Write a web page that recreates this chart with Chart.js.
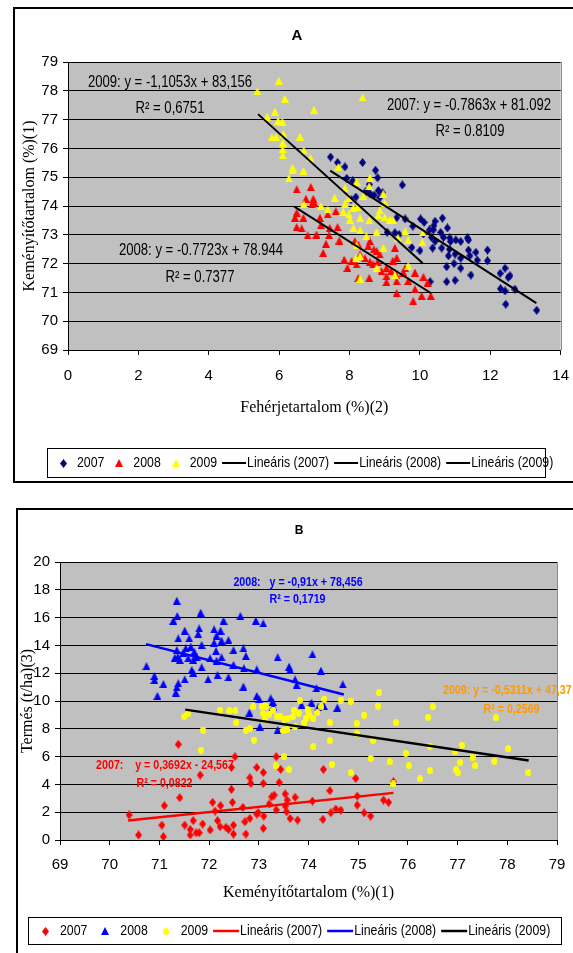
<!DOCTYPE html>
<html>
<head>
<meta charset="utf-8">
<script src="https://cdn.jsdelivr.net/npm/chart.js@4.4.0/dist/chart.umd.min.js"></script>
<style>
  html, body { margin: 0; padding: 0; background: #fff; }
  body { width: 573px; height: 953px; overflow: hidden; position: relative; }
  .frame { position: absolute; border: 2px solid #000; box-sizing: border-box; }
  #frameA { left: 13px; top: 7px; width: 620px; height: 476px; }
  #frameB { left: 16px; top: 508px; width: 620px; height: 500px; }
  canvas { position: absolute; }
  #chartA { left: 13px; top: 7px; }
  #chartB { left: 16px; top: 508px; }
</style>
</head>
<body>
<div class="frame" id="frameA"></div>
<div class="frame" id="frameB"></div>
<canvas id="chartA" width="568" height="475"></canvas>
<canvas id="chartB" width="566" height="445"></canvas>
<script>
// ---- A: fehérjetartalom / keményítőtartalom ----
const aXTicks = [0, 2, 4, 6, 8, 10, 12, 14];
const aYTicks = [69, 70, 71, 72, 73, 74, 75, 76, 77, 78, 79];

const a2007x = [7.46, 7.66, 7.87, 8.37, 8.74, 8.80, 7.92, 8.09, 8.56, 8.82, 8.47, 8.58, 8.18, 8.04, 8.70, 8.94, 8.86, 9.34, 9.29, 9.41,
  9.50, 9.58, 10.02, 10.12, 10.43, 10.64, 10.40, 10.27, 10.38, 10.78, 10.59, 10.10, 10.33, 10.43, 10.67, 10.85, 10.87, 11.02, 11.16, 11.35,
  11.38, 10.62, 10.84, 10.36, 10.00, 9.77, 11.00, 10.81, 11.16, 10.97, 10.76, 11.16, 11.38, 11.42, 11.59, 11.63, 11.92, 11.92, 11.45, 10.76,
  11.00, 10.29, 12.28, 12.42, 12.51, 12.56, 12.29, 12.42, 12.70, 12.44, 13.32, 9.07, 9.80];
const a2007y = [75.70, 75.51, 75.36, 75.51, 75.24, 74.98, 74.96, 74.87, 74.75, 74.54, 74.52, 74.43, 74.31, 74.23, 74.38, 74.46, 74.29, 73.59, 73.07, 73.01,
  74.73, 73.55, 73.55, 73.43, 73.47, 73.58, 73.32, 73.17, 73.17, 73.24, 73.08, 73.03, 72.91, 72.77, 72.91, 72.89, 72.77, 72.82, 72.77, 72.89,
  72.82, 72.54, 72.50, 72.54, 72.45, 72.56, 72.33, 72.27, 72.19, 72.00, 71.89, 71.84, 72.47, 72.27, 72.39, 72.12, 72.47, 72.10, 71.60, 71.37,
  71.42, 71.37, 71.66, 71.84, 71.52, 71.58, 71.13, 71.05, 71.11, 70.59, 70.38, 73.09, 73.30];

const a2008x = [6.50, 6.90, 6.76, 6.97, 7.00, 6.93, 6.50, 6.45, 6.69, 7.16, 7.38, 7.61, 6.50, 6.64, 6.81, 7.06, 7.19, 7.44, 7.66, 7.42,
  7.33, 7.25, 7.71, 8.15, 8.25, 8.30, 8.53, 8.58, 8.69, 7.85, 7.94, 8.06, 8.20, 8.44, 8.58, 8.67, 8.80, 8.86, 8.91, 9.05,
  9.05, 9.18, 9.29, 9.34, 9.32, 8.25, 8.56, 9.05, 9.34, 9.34, 8.77, 9.23, 9.58, 9.53, 9.86, 10.10, 10.22, 9.67, 9.81, 10.05,
  10.31, 9.86];
const a2008y = [74.58, 74.66, 74.25, 74.25, 74.11, 74.06, 73.77, 73.59, 73.59, 73.59, 73.71, 73.82, 73.27, 73.22, 72.98, 73.01, 73.34, 73.24, 73.27, 72.99,
  72.69, 72.37, 72.80, 72.78, 72.66, 72.32, 72.61, 72.78, 72.49, 72.14, 71.85, 72.09, 71.97, 72.18, 72.06, 71.97, 72.06, 72.32, 71.74, 71.85,
  71.56, 71.74, 72.55, 72.20, 71.62, 71.50, 71.50, 71.36, 71.39, 70.98, 72.44, 72.10, 71.84, 71.69, 71.69, 71.54, 71.34, 71.40, 70.70, 70.88,
  70.88, 71.11];

const a2009x = [5.38, 5.99, 6.16, 6.99, 8.37, 5.88, 5.66, 5.97, 6.09, 5.79, 5.91, 6.12, 6.10, 6.10, 6.10, 6.59, 6.70, 6.89, 6.38, 6.38,
  6.28, 6.69, 8.20, 7.68, 7.58, 7.87, 7.99, 6.70, 7.19, 7.38, 7.87, 7.82, 7.98, 8.11, 8.22, 8.30, 8.01, 8.39, 8.58, 8.56,
  8.96, 8.86, 9.00, 8.82, 8.56, 8.30, 8.11, 9.00, 9.15, 9.24, 8.48, 8.77, 9.38, 8.96, 8.20, 8.30, 8.18, 8.77, 8.30, 9.29,
  9.58, 9.67, 10.08, 10.07, 9.67];
const a2009y = [77.98, 78.35, 77.73, 77.34, 77.77, 77.28, 77.10, 76.96, 76.93, 76.38, 76.40, 76.50, 76.20, 75.97, 75.76, 76.41, 75.93, 75.66, 75.33, 75.25,
  74.96, 75.22, 74.84, 75.36, 74.29, 74.61, 74.29, 74.06, 74.00, 73.88, 74.08, 73.80, 73.71, 73.94, 73.96, 73.59, 73.53, 74.35, 74.98, 74.69,
  74.43, 73.85, 73.61, 73.68, 73.50, 73.15, 73.24, 74.11, 73.53, 73.51, 72.95, 73.10, 72.90, 72.55, 72.64, 72.26, 72.18, 71.85, 71.48, 71.60,
  73.12, 72.82, 73.08, 72.74, 71.92];

// lineáris trendvonalak végpontjai (leolvasva)
const aTrend2007x = [7.45, 13.31], aTrend2007y = [75.23, 70.63];
const aTrend2008x = [6.43, 10.32], aTrend2008y = [73.98, 70.97];
const aTrend2009x = [5.40, 10.08], aTrend2009y = [77.19, 72.01];

// ---- B: keményítőtartalom / termés ----
const bXTicks = [69, 70, 71, 72, 73, 74, 75, 76, 77, 78, 79];
const bYTicks = [0, 2, 4, 6, 8, 10, 12, 14, 16, 18, 20];

const b2007x = [71.38, 72.52, 73.35, 72.45, 72.96, 73.09, 73.44, 74.30, 71.82, 72.82, 72.84, 73.09, 73.41, 74.95, 72.45, 71.41, 71.10, 72.07, 72.23, 72.47,
  72.68, 73.26, 73.31, 73.21, 73.35, 73.53, 73.57, 73.73, 73.53, 73.56, 73.63, 73.78, 74.08, 74.43, 74.98, 74.98, 75.51, 75.61, 75.71, 74.65,
  74.55, 74.45, 74.29, 75.12, 75.25, 70.39, 70.58, 71.05, 71.08, 71.51, 71.68, 71.87, 71.62, 71.62, 71.74, 71.80, 72.02, 72.17, 72.22, 72.12,
  72.34, 72.39, 72.49, 72.49, 72.72, 72.74, 72.82, 72.99, 73.10, 73.09, 72.96];
const b2007y = [6.88, 5.99, 5.99, 5.22, 5.22, 4.86, 5.08, 5.08, 4.67, 4.48, 4.07, 4.07, 4.14, 4.43, 3.64, 3.04, 2.47, 2.71, 2.47, 2.71,
  2.35, 3.11, 3.23, 2.59, 2.16, 3.31, 2.87, 3.07, 2.44, 2.03, 1.55, 1.43, 2.80, 3.55, 3.16, 2.51, 2.87, 2.71, 4.19, 2.15,
  2.23, 1.96, 1.48, 1.96, 1.72, 1.80, 0.36, 1.07, 0.24, 1.07, 1.39, 1.15, 0.76, 0.36, 0.52, 0.52, 0.72, 1.39, 0.96, 2.08,
  0.91, 0.76, 1.07, 0.43, 1.31, 0.43, 1.55, 1.96, 1.72, 0.84, 1.87];

const b2008x = [71.35, 71.36, 71.28, 71.83, 72.63, 72.94, 73.09, 72.29, 71.51, 71.80, 71.78, 72.10, 72.23, 72.15, 71.60, 71.38, 72.25, 72.39, 72.10, 71.85,
  71.63, 71.53, 71.35, 71.48, 71.70, 71.37, 71.31, 71.41, 71.58, 71.68, 71.75, 72.02, 72.14, 72.15, 72.25, 72.49, 72.69, 72.74, 72.49, 72.70,
  72.96, 73.38, 73.61, 73.63, 74.08, 74.25, 73.73, 73.76, 74.16, 74.69, 71.85, 71.65, 71.68, 71.98, 72.17, 72.39, 71.51, 71.38, 71.35, 71.33,
  71.08, 70.90, 70.90, 70.96, 70.74, 72.69, 72.96, 73.01, 73.24, 73.28, 73.29, 72.81, 73.02, 73.38, 74.06, 74.31, 74.58, 74.20, 73.86];
const b2008y = [17.21, 16.11, 15.77, 16.35, 16.11, 15.77, 15.58, 15.77, 15.06, 15.22, 14.82, 15.15, 15.06, 14.70, 14.50, 14.50, 14.34, 14.38, 14.19, 14.02,
  13.90, 13.78, 13.66, 13.47, 13.54, 13.18, 13.11, 12.95, 13.07, 12.95, 13.18, 13.07, 13.59, 12.90, 13.14, 13.66, 13.78, 13.23, 12.59, 12.35,
  12.27, 13.14, 12.47, 12.23, 13.35, 12.18, 11.55, 11.15, 10.91, 11.19, 12.42, 12.23, 12.03, 11.55, 11.87, 11.70, 11.55, 11.27, 10.98, 10.60,
  11.22, 11.80, 11.51, 10.36, 12.51, 11.03, 10.36, 10.12, 10.19, 9.95, 9.59, 9.16, 8.15, 7.91, 9.88, 9.64, 9.52, 9.59, 9.71];

const b2009x = [75.42, 75.40, 76.50, 76.41, 77.77, 75.76, 75.12, 74.97, 74.97, 75.30, 74.43, 74.43, 74.10, 74.85, 74.65, 74.32, 73.83, 73.51, 73.34, 73.61,
  74.47, 74.85, 75.25, 75.63, 75.71, 75.96, 76.02, 76.24, 76.44, 76.44, 76.95, 77.09, 77.05, 76.97, 77.00, 77.30, 77.36, 77.74, 78.02, 78.42,
  72.53, 72.89, 73.06, 73.14, 73.09, 73.21, 73.12, 73.29, 73.43, 73.51, 73.59, 73.57, 73.49, 73.71, 73.69, 73.81, 73.98, 74.02, 73.95, 74.10,
  74.18, 74.26, 73.90, 73.73, 72.90, 72.74, 72.82, 71.50, 71.58, 71.88, 72.22, 72.41, 71.84, 72.55, 73.36];
const b2009y = [10.60, 9.64, 9.59, 8.82, 8.80, 8.44, 8.99, 8.39, 7.67, 7.15, 8.44, 7.15, 6.71, 10.00, 10.07, 10.14, 10.02, 5.99, 5.35, 5.08,
  5.44, 4.84, 5.87, 5.63, 4.03, 6.23, 5.35, 4.39, 4.99, 6.76, 6.35, 6.83, 5.59, 5.04, 4.84, 5.95, 5.35, 5.68, 6.55, 4.84,
  9.30, 9.59, 9.64, 9.64, 9.11, 9.06, 8.68, 9.35, 8.92, 8.68, 8.75, 7.96, 7.87, 9.35, 8.87, 9.11, 9.40, 9.04, 8.75, 8.75,
  9.16, 9.59, 8.39, 8.15, 7.19, 7.91, 8.03, 8.87, 9.11, 7.91, 9.35, 9.30, 6.47, 8.44, 8.87];

const bTrend2007x = [70.37, 75.71], bTrend2007y = [1.41, 3.39];
const bTrend2008x = [70.73, 74.71], bTrend2008y = [14.09, 10.47];
const bTrend2009x = [71.52, 78.43], bTrend2009y = [9.38, 5.72];

const SANS = '"Liberation Sans", Arial, sans-serif';
const SERIF = '"Liberation Serif", "Times New Roman", serif';
const NARROW_SX = 0.82; // Arial Narrow helyett vízszintesen szűkített Liberation Sans

// pontjelölők kis képként (Excel-szerű, kicsit magasabb alakok)
function marker(shape, w, h, color) {
  const c = document.createElement('canvas');
  c.width = w; c.height = h;
  const g = c.getContext('2d');
  g.fillStyle = color;
  g.beginPath();
  if (shape === 'diamond') {
    g.moveTo(w / 2, 0); g.lineTo(w, h / 2); g.lineTo(w / 2, h); g.lineTo(0, h / 2);
  } else if (shape === 'triangle') {
    g.moveTo(w / 2, 0); g.lineTo(w, h); g.lineTo(0, h);
  } else {
    g.ellipse(w / 2, h / 2, w / 2, h / 2, 0, 0, Math.PI * 2);
  }
  g.closePath();
  g.fill();
  return c;
}

const mkNavyDiamond = marker('diamond', 7, 9, '#000080');
const mkRedTriA = marker('triangle', 8, 8, '#ff0000');
const mkYellowTriA = marker('triangle', 8, 8, '#ffff00');
const mkRedDiamond = marker('diamond', 7, 9, '#ff0000');
const mkBlueTri = marker('triangle', 8, 8, '#0000ff');
const mkYellowDot = marker('circle', 6, 7, '#ffff00');

function pts(xs, ys) {
  return xs.map((x, i) => ({ x: x, y: ys[i] }));
}

function scatterSet(label, xs, ys, img, order) {
  return { label: label, data: pts(xs, ys), pointStyle: img, pointRadius: 4, pointBorderWidth: 0, showLine: false, order: order };
}

function trendSet(label, xs, ys, color, width) {
  return { label: label, data: pts(xs, ys), showLine: true, borderColor: color, borderWidth: width, pointRadius: 0, order: 0 };
}

function fixedTicks(list) {
  return scale => { scale.ticks = list.map(v => ({ value: v })); };
}

// szűkített szöveg, visszaadja a szélességet
function narrowText(ctx, text, x, y, align) {
  const w = ctx.measureText(text).width * NARROW_SX;
  const left = align === 'center' ? x - w / 2 : (align === 'right' ? x - w : x);
  ctx.save();
  ctx.translate(left, y);
  ctx.scale(NARROW_SX, 1);
  ctx.textAlign = 'left';
  ctx.fillText(text, 0, 0);
  ctx.restore();
  return w;
}

function drawLegend(ctx, lg) {
  ctx.save();
  ctx.strokeStyle = '#000';
  ctx.lineWidth = 1;
  ctx.strokeRect(lg.x + 0.5, lg.y + 0.5, lg.w, lg.h);
  ctx.font = lg.font;
  ctx.fillStyle = '#000';
  ctx.textBaseline = 'middle';
  const cy = lg.y + lg.h / 2 + 0.5;
  let x = lg.x + lg.first;
  lg.items.forEach((it, i) => {
    if (it.line) {
      if (i > 0) x += lg.lineGap;
      ctx.strokeStyle = it.line;
      ctx.lineWidth = lg.lineWidth;
      ctx.beginPath();
      ctx.moveTo(x, cy);
      ctx.lineTo(x + lg.lineLen, cy);
      ctx.stroke();
      x += lg.lineLen + 1;
    } else {
      if (i > 0) x += lg.markGap;
      ctx.drawImage(it.img, Math.round(x - it.img.width / 2), Math.round(cy - it.img.height / 2));
      x += lg.textGap;
    }
    x += narrowText(ctx, it.text, x, cy, 'left');
  });
  ctx.restore();
}

// szürke háttér, feliratok, jelmagyarázat
function decor(name, notes, legend) {
  return {
    id: 'decor' + name,
    beforeDraw(chart) {
      const { ctx, chartArea: a } = chart;
      ctx.save();
      ctx.fillStyle = '#c0c0c0';
      ctx.fillRect(a.left, a.top, a.right - a.left, a.bottom - a.top);
      ctx.strokeStyle = '#8a8a8a';
      ctx.lineWidth = 1;
      ctx.beginPath();
      ctx.moveTo(Math.round(a.right) + 0.5, a.top);
      ctx.lineTo(Math.round(a.right) + 0.5, a.bottom);
      ctx.stroke();
      ctx.restore();
    },
    afterDraw(chart) {
      const ctx = chart.ctx;
      ctx.save();
      ctx.textBaseline = 'middle';
      notes.forEach(n => {
        ctx.font = n.font;
        ctx.fillStyle = n.color || '#000';
        if (n.plain) {
          ctx.textAlign = 'center';
          ctx.fillText(n.text, n.x, n.y);
        } else {
          narrowText(ctx, n.text, n.x, n.y, n.align || 'center');
        }
      });
      ctx.restore();
      drawLegend(ctx, legend);
    }
  };
}

function axes(cfg) {
  return {
    x: {
      type: 'linear',
      min: cfg.xTicks[0],
      max: cfg.xTicks[cfg.xTicks.length - 1],
      afterBuildTicks: fixedTicks(cfg.xTicks),
      afterFit: s => { s.height = 70; },
      grid: { drawOnChartArea: false, drawTicks: true, tickLength: 5, color: '#000' },
      border: { color: '#000', width: 1 },
      ticks: { autoSkip: false, maxRotation: 0, font: cfg.tickFont, color: '#000', padding: cfg.xTickPad },
      title: { display: true, text: cfg.xTitle, font: { family: SERIF, size: 16 }, color: '#000', padding: { top: 0, bottom: cfg.xTitlePad } }
    },
    y: {
      type: 'linear',
      min: cfg.yTicks[0],
      max: cfg.yTicks[cfg.yTicks.length - 1],
      afterBuildTicks: fixedTicks(cfg.yTicks),
      afterFit: s => { s.width = cfg.yWidth; },
      grid: { color: '#000', lineWidth: 1, drawTicks: true, tickLength: 5 },
      border: { color: '#000', width: 1 },
      ticks: { autoSkip: false, font: cfg.tickFont, color: '#000', padding: 5 },
      title: { display: true, text: cfg.yTitle, font: { family: SERIF, size: 16 }, color: '#000', padding: { top: cfg.yTitlePad, bottom: 0 } }
    }
  };
}

// ---- A diagram ----
const notesA = [
  { text: 'A', x: 284, y: 29, font: 'bold 15px ' + SANS, plain: true },
  { text: '2009: y = -1,1053x + 83,156', x: 157, y: 76, font: '16px ' + SANS },
  { text: 'R² = 0,6751', x: 157, y: 102, font: '16px ' + SANS },
  { text: '2007: y = -0.7863x + 81.092', x: 456, y: 99, font: '16px ' + SANS },
  { text: 'R² = 0.8109', x: 457, y: 125, font: '16px ' + SANS },
  { text: '2008: y = -0.7723x + 78.944', x: 188, y: 244, font: '16px ' + SANS },
  { text: 'R² = 0.7377', x: 187, y: 271, font: '16px ' + SANS }
];
const legendA = {
  x: 34, y: 441, w: 498, h: 29, first: 16, font: '15px ' + SANS,
  markGap: 15, textGap: 14, lineGap: 5, lineLen: 24, lineWidth: 2,
  items: [
    { img: mkNavyDiamond, text: '2007' },
    { img: mkRedTriA, text: '2008' },
    { img: mkYellowTriA, text: '2009' },
    { line: '#000', text: 'Lineáris (2007)' },
    { line: '#000', text: 'Lineáris (2008)' },
    { line: '#000', text: 'Lineáris (2009)' }
  ]
};

new Chart(document.getElementById('chartA'), {
  type: 'scatter',
  data: {
    datasets: [
      scatterSet('2007', a2007x, a2007y, mkNavyDiamond, 3),
      scatterSet('2008', a2008x, a2008y, mkRedTriA, 2),
      scatterSet('2009', a2009x, a2009y, mkYellowTriA, 1),
      trendSet('Lineáris (2007)', aTrend2007x, aTrend2007y, '#000', 2),
      trendSet('Lineáris (2008)', aTrend2008x, aTrend2008y, '#000', 2),
      trendSet('Lineáris (2009)', aTrend2009x, aTrend2009y, '#000', 2)
    ]
  },
  options: {
    responsive: false,
    animation: false,
    devicePixelRatio: 1,
    layout: { padding: { left: 0, right: 20, top: 55, bottom: 62 } },
    plugins: { legend: { display: false }, tooltip: { enabled: false }, title: { display: false } },
    scales: axes({
      xTicks: aXTicks, yTicks: aYTicks,
      tickFont: { family: SANS, size: 15 },
      xTickPad: 12, xTitlePad: 2.4, yWidth: 55, yTitlePad: 7.4,
      xTitle: 'Fehérjetartalom (%)(2)', yTitle: 'Keményítőtartalom (%)(1)'
    })
  },
  plugins: [decor('A', notesA, legendA)]
});

// ---- B diagram ----
const notesB = [
  { text: 'B', x: 283, y: 23, font: 'bold 12px ' + SANS, plain: true },
  { text: '2008:   y = -0,91x + 78,456', x: 282, y: 74, color: '#0000ff', font: 'bold 13px ' + SANS },
  { text: 'R² = 0,1719', x: 281.5, y: 91, color: '#0000ff', font: 'bold 13px ' + SANS },
  { text: '2009: y = -0,5311x + 47,37', x: 427, y: 182, align: 'left', color: '#ff9900', font: 'bold 13px ' + SANS },
  { text: 'R² = 0,2569', x: 495.5, y: 201, color: '#ff9900', font: 'bold 13px ' + SANS },
  { text: '2007:    y = 0,3692x - 24,567', x: 149, y: 257, color: '#ff0000', font: 'bold 13px ' + SANS },
  { text: 'R² = 0,0822', x: 148.5, y: 275, color: '#ff0000', font: 'bold 13px ' + SANS }
];
const legendB = {
  x: 12, y: 409, w: 533, h: 27, first: 17, font: '15px ' + SANS,
  markGap: 18, textGap: 15, lineGap: 5, lineLen: 26, lineWidth: 2.5,
  items: [
    { img: mkRedDiamond, text: '2007' },
    { img: mkBlueTri, text: '2008' },
    { img: mkYellowDot, text: '2009' },
    { line: '#ff0000', text: 'Lineáris (2007)' },
    { line: '#0000ff', text: 'Lineáris (2008)' },
    { line: '#000', text: 'Lineáris (2009)' }
  ]
};

new Chart(document.getElementById('chartB'), {
  type: 'scatter',
  data: {
    datasets: [
      scatterSet('2007', b2007x, b2007y, mkRedDiamond, 3),
      scatterSet('2008', b2008x, b2008y, mkBlueTri, 2),
      scatterSet('2009', b2009x, b2009y, mkYellowDot, 1),
      trendSet('Lineáris (2007)', bTrend2007x, bTrend2007y, '#ff0000', 2.5),
      trendSet('Lineáris (2008)', bTrend2008x, bTrend2008y, '#0000ff', 2.5),
      trendSet('Lineáris (2009)', bTrend2009x, bTrend2009y, '#000', 2.5)
    ]
  },
  options: {
    responsive: false,
    animation: false,
    devicePixelRatio: 1,
    layout: { padding: { left: 0, right: 25, top: 54, bottom: 43 } },
    plugins: { legend: { display: false }, tooltip: { enabled: false }, title: { display: false } },
    scales: axes({
      xTicks: bXTicks, yTicks: bYTicks,
      tickFont: { family: SANS, size: 15 },
      xTickPad: 11, xTitlePad: 7.4, yWidth: 44, yTitlePad: 2.4,
      xTitle: 'Keményítőtartalom (%)(1)', yTitle: 'Termés (t/ha)(3)'
    })
  },
  plugins: [decor('B', notesB, legendB)]
});
</script>
</body>
</html>
